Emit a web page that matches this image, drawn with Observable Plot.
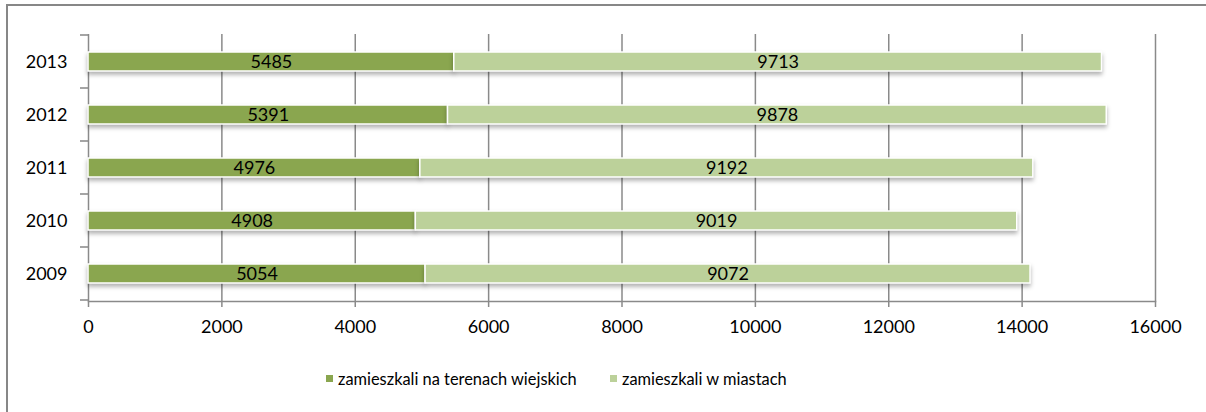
<!DOCTYPE html>
<html>
<head>
<meta charset="utf-8">
<script src="https://cdn.jsdelivr.net/npm/d3@7"></script>
<script src="https://cdn.jsdelivr.net/npm/@observablehq/plot@0.6"></script>
<style>
  html, body { margin: 0; padding: 0; background: #fff; overflow: hidden; }
  #wrap { position: relative; width: 1206px; height: 412px; overflow: hidden; }
  #border { position: absolute; left: 6px; top: 4px; width: 1300px; height: 500px; border: 2px solid #878787; box-sizing: border-box; pointer-events: none; }
  #chart { position: absolute; left: 0; top: 0; }
  #legend { position: absolute; top: 369px; left: 0; width: 1206px; font-family: Lato, sans-serif; font-size: 16.4px; color: #000; }
  .item { position: absolute; display: flex; align-items: center; white-space: nowrap; }
  .sw { width: 7px; height: 7px; margin-right: 5px; }
  g.bars rect { filter: drop-shadow(0px 3px 2px rgba(0,0,0,0.3)); }
</style>
</head>
<body>
<div id="wrap">
  <div id="chart"></div>
  <div id="border"></div>
  <div id="legend"></div>
</div>
<script>
const years = [2009, 2010, 2011, 2012, 2013];
const seriesNames = ["zamieszkali na terenach wiejskich", "zamieszkali w miastach"];
const rural = [5054, 4908, 4976, 5391, 5485];
const urban = [9072, 9019, 9192, 9878, 9713];
const colors = ["#8aa64f", "#bcd19a"];
const xTicks = [0, 2000, 4000, 6000, 8000, 10000, 12000, 14000, 16000];

const data = [];
years.forEach((y, i) => {
  data.push({year: y, series: seriesNames[0], value: rural[i]});
  data.push({year: y, series: seriesNames[1], value: urban[i]});
});

// y-axis tick marks at band boundaries
function yBoundaryTicks(index, scales, values, dimensions) {
  const y = scales.y;
  const step = y.step();
  const bw = y.bandwidth();
  const x0 = dimensions.marginLeft;
  const g = d3.create("svg:g").attr("stroke", "#878787").attr("stroke-width", 1.5);
  const dom = y.domain();
  const edges = dom.map(d => y(d) + bw / 2 - step / 2);
  edges.push(y(dom[dom.length - 1]) + bw / 2 + step / 2);
  edges.forEach(e => g.append("line").attr("x1", x0 - 8).attr("x2", x0).attr("y1", e).attr("y2", e));
  return g.node();
}

const plot = Plot.plot({
  width: 1206,
  height: 412,
  marginLeft: 88,
  marginRight: 51,
  marginTop: 34,
  marginBottom: 111,
  style: {fontFamily: "Lato, sans-serif", fontSize: "18px", color: "#000", background: "transparent"},
  x: {domain: [0, 16000], ticks: xTicks, tickFormat: d => String(d)},
  y: {domain: years.slice().reverse(), paddingInner: 0.64, paddingOuter: 0.32, tickFormat: d => String(d)},
  color: {domain: seriesNames, range: colors},
  marks: [
    Plot.ruleX(xTicks.slice(1), {stroke: "#8a8a8a", strokeWidth: 1.5}),
    Plot.ruleX([0], {stroke: "#8a8a8a", strokeWidth: 1.5}),
    Plot.frame({anchor: "bottom", stroke: "#8a8a8a", strokeWidth: 1.5}),
    Plot.axisX({ticks: xTicks, tickSize: 6, tickPadding: 13, stroke: "#8a8a8a", strokeWidth: 1.5, tickFormat: d => String(d), fill: "#000", label: null}),
    Plot.axisY({tickSize: 0, tickPadding: 21, fill: "#000", label: null, tickFormat: d => String(d)}),
    yBoundaryTicks,
    Plot.barX(data, Plot.stackX({x: "value", y: "year", fill: "series", stroke: "white", strokeWidth: 1.5, className: "bars"})),
    Plot.text(data, Plot.stackX({x: "value", y: "year", text: d => String(d.value), fill: "#000", fontSize: 18}))
  ]
});
document.getElementById("chart").appendChild(plot);

const legend = document.getElementById("legend");
const lx = [326, 610];
seriesNames.forEach((name, i) => {
  const it = document.createElement("div");
  it.className = "item";
  it.style.left = lx[i] + "px";
  it.innerHTML = `<span class="sw" style="background:${colors[i]}"></span><span>${name}</span>`;
  legend.appendChild(it);
});
</script>
</body>
</html>
